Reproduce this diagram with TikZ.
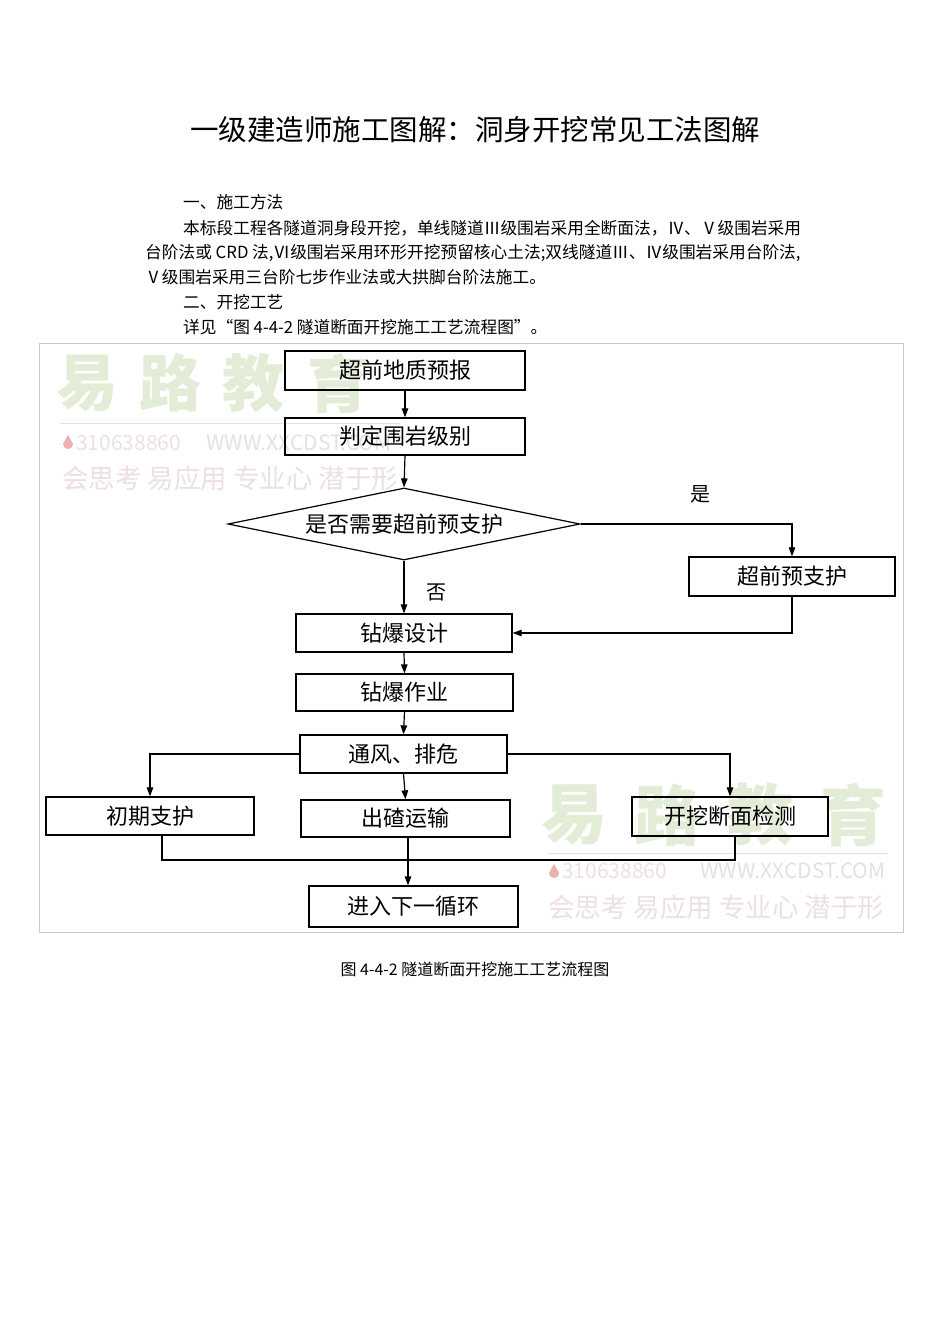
\documentclass[tikz,border=0pt]{standalone}
\usepackage{fontspec}
\setmainfont{Noto Sans CJK SC}
\usetikzlibrary{arrows.meta,shapes.geometric}
\definecolor{wmgreen}{RGB}{226,236,214}
\definecolor{wmpink}{RGB}{236,224,224}
\definecolor{wmdrop}{RGB}{236,176,176}
\definecolor{wmgray}{RGB}{226,226,226}
\definecolor{framegray}{RGB}{200,200,200}
\begin{document}
\begin{tikzpicture}[x=1pt,y=-1pt,
  txt/.style={anchor=west,inner sep=0pt,font=\fontsize{16.7}{18}\selectfont},
  fbox/.style={draw,line width=1.3pt,inner sep=0pt,font=\fontsize{22}{24}\selectfont},
  arr/.style={-{Triangle[length=9pt,width=6.5pt]},line width=1.2pt},
  conn/.style={line width=1.2pt},
  wmbig/.style={inner sep=0pt,text=wmgreen,font=\bfseries\fontsize{62}{64}\selectfont},
  wmbig2/.style={inner sep=0pt,text=wmgreen,font=\bfseries\fontsize{66}{68}\selectfont},
  wmsmall/.style={anchor=west,inner sep=0pt,font=\fontsize{21}{23}\selectfont},
  wmrow/.style={anchor=west,inner sep=0pt,text=wmpink,font=\fontsize{26.5}{28}\selectfont},
  lbl/.style={inner sep=0pt,font=\fontsize{20}{22}\selectfont}]
\useasboundingbox (0,0) rectangle (950,1344);
\fill[white] (0,0) rectangle (950,1344);

% title and text
\node[inner sep=0pt,font=\fontsize{28.5}{30}\selectfont] (title) at (475,130) {一级建造师施工图解：洞身开挖常见工法图解};
\node[txt] (p1) at (183,202) {一、施工方法};
\node[txt] (p2) at (183,228) {本标段工程各隧道洞身段开挖，单线隧道Ⅲ级围岩采用全断面法，Ⅳ、Ⅴ级围岩采用};
\node[txt] (p3) at (145,253) {台阶法或 CRD 法,Ⅵ级围岩采用环形开挖预留核心土法;双线隧道Ⅲ、Ⅳ级围岩采用台阶法,};
\node[txt] (p4) at (145,277) {Ⅴ级围岩采用三台阶七步作业法或大拱脚台阶法施工。};
\node[txt] (p5) at (183,302) {二、开挖工艺};
\node[txt] (p6) at (183,327) {详见“图 4-4-2 隧道断面开挖施工工艺流程图”。};

% frame
\draw[framegray,line width=0.8pt] (39,343) rectangle (903,932);

% watermark 1
\node[wmbig] (w1a) at (87,383) {易};
\node[wmbig] (w1b) at (170,383) {路};
\node[wmbig] (w1c) at (253,383) {教};
\node[wmbig] (w1d) at (338,383) {育};
\draw[wmgray,line width=0.8pt] (60,423) -- (400,423);
\fill[wmdrop] (68,435) -- (63,444) arc[start angle=180,end angle=0,radius=5] -- cycle;
\node[wmsmall,text=wmpink] (w1e) at (76,443) {310638860};
\node[wmsmall,text=wmgray] (w1f) at (206,443) {WWW.XXCDST.COM};
\node[wmrow] (w1g) at (62,478) {会思考 易应用 专业心 潜于形};

% watermark 2
\node[wmbig2] (w2a) at (574,815) {易};
\node[wmbig2] (w2b) at (667,815) {路};
\node[wmbig2] (w2c) at (760,815) {教};
\node[wmbig2] (w2d) at (853,815) {育};
\draw[wmgray,line width=0.8pt] (548,853) -- (888,853);
\fill[wmdrop] (554,864) -- (549,873) arc[start angle=180,end angle=0,radius=5] -- cycle;
\node[wmsmall,text=wmpink] (w2e) at (562,871) {310638860};
\node[wmsmall,text=wmgray] (w2f) at (700,871) {WWW.XXCDST.COM};
\node[wmrow] (w2g) at (548,907) {会思考 易应用 专业心 潜于形};

% flowchart nodes
\node[fbox,minimum width=240pt,minimum height=39pt] (b1) at (405,370.5) {超前地质预报};
\node[fbox,minimum width=240pt,minimum height=37pt] (b2) at (405,436.5) {判定围岩级别};
\node[diamond,draw,line width=1.2pt,aspect=4.9,minimum width=352pt,minimum height=72pt,inner sep=0pt,font=\fontsize{22}{24}\selectfont] (d) at (404,524) {是否需要超前预支护};
\node[fbox,minimum width=206pt,minimum height=39pt] (sup) at (792,576.5) {超前预支护};
\node[fbox,minimum width=216pt,minimum height=38pt] (zs) at (404,633) {钻爆设计};
\node[fbox,minimum width=217pt,minimum height=37pt] (zz) at (404.5,692.5) {钻爆作业};
\node[fbox,minimum width=207pt,minimum height=38pt] (tf) at (403.5,754) {通风、排危};
\node[fbox,minimum width=208pt,minimum height=38pt] (cq) at (150,816) {初期支护};
\node[fbox,minimum width=209pt,minimum height=37pt] (cz) at (405.5,818.5) {出碴运输};
\node[fbox,minimum width=196pt,minimum height=39pt] (kw) at (730,816.5) {开挖断面检测};
\node[fbox,minimum width=209pt,minimum height=41pt] (nx) at (413.5,906.5) {进入下一循环};

\node[lbl] (yes) at (700,494) {是};
\node[lbl] (no) at (436,592) {否};

\coordinate (jn) at (408,860);

% connectors
\draw[arr] (b1.south) -- (b2.north);
\draw[arr] (b2.south) -- (d.north);
\draw[arr] (d.east) -| (sup.north);
\draw[arr] (sup.south) |- (zs.east);
\draw[arr] (d.south) -- (zs.north);
\draw[arr] (zs.south) -- (zz.north);
\draw[arr] (zz.south) -- (tf.north);
\draw[arr] (tf.west) -| (cq.north);
\draw[arr] (tf.south) -- (cz.north);
\draw[arr] (tf.east) -| (kw.north);
\draw[conn] ([xshift=12pt]cq.south) |- (jn) -| ([xshift=5pt]kw.south);
\draw[arr] (cz.south -| jn) -- (nx.north -| jn);

% caption
\node[inner sep=0pt,font=\fontsize{16}{18}\selectfont] (cap) at (475,969) {图 4-4-2 隧道断面开挖施工工艺流程图};
\end{tikzpicture}
\end{document}
